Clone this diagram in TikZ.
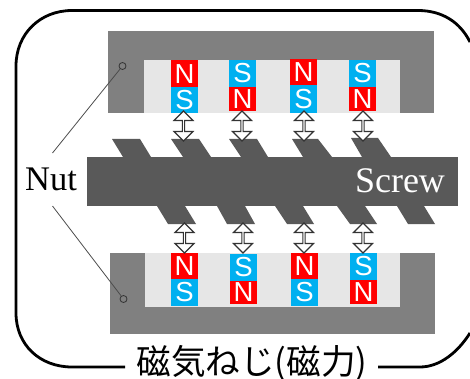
\documentclass[tikz,border=0pt]{standalone}
\usepackage{fontspec}
\setmainfont{Liberation Serif}
\newfontfamily\magfont{Liberation Sans}
\newfontfamily\cjkfont{Noto Sans CJK JP}
\usetikzlibrary{shapes.arrows}
\definecolor{nutgray}{HTML}{808080}
\definecolor{innergray}{HTML}{E6E6E6}
\definecolor{screwgray}{HTML}{595959}
\definecolor{magcyan}{HTML}{00B0F0}
\tikzset{
  nutfill/.style={fill=nutgray,draw=none},
  innerfill/.style={fill=innergray,draw=none},
  screwfill/.style={fill=screwgray,draw=none},
  magbase/.style={anchor=north west,inner sep=0pt,outer sep=0pt,minimum width=27pt,text=white,font=\magfont\fontsize{27.5}{27.5}\selectfont},
  magn/.style={magbase,fill=red},
  mags/.style={magbase,fill=magcyan},
  forcearrow/.style={shape=double arrow,rotate=90,draw=black!80,fill=white,line width=1.2pt,inner sep=0pt,minimum height=30pt,minimum width=19pt,double arrow head extend=4.5pt,double arrow head indent=0pt},
  border/.style={draw=black,line width=2.8pt},
  leader/.style={draw=black!70,line width=0.8pt},
  ring/.style={circle,draw=black!80,line width=0.8pt,inner sep=0pt,minimum size=7pt},
  biglabel/.style={inner sep=0pt,font=\fontsize{34.5}{34.5}\selectfont}
}
\begin{document}
\begin{tikzpicture}[x=1pt,y=-1pt]
\useasboundingbox (0,0) rectangle (470,379);
\clip (0,0) rectangle (470,379);
% outer frame
\coordinate (fa) at (125,367);
\coordinate (fb) at (470,42);
\coordinate (fc) at (378,367);
\coordinate (fd) at (470,333);
\draw[border] (fa) -- (72,367) .. controls (40,367) and (16,345) .. (16,313) -- (16,66) .. controls (16,34) and (40,10.5) .. (72,10.5) -- (418,10.5) .. controls (442,10.5) and (460,22) .. (fb);
\draw[border] (fc) -- (420,367) .. controls (440,367) and (458,352) .. (fd);
% nuts
\fill[nutfill] (108,31.5) rectangle (434,113);
\fill[innerfill] (144,60) rectangle (400,113);
\fill[nutfill] (110,253) rectangle (435,334);
\fill[innerfill] (145,253) rectangle (400,307);
% screw
\fill[screwfill] (87,157) rectangle (458,206);
\fill[screwfill] (112,139) -- (140,139) -- (151,157) -- (123,157) -- cycle;
\fill[screwfill] (171,139) -- (199,139) -- (211,157) -- (183,157) -- cycle;
\fill[screwfill] (229,139) -- (257,139) -- (268,157) -- (241,157) -- cycle;
\fill[screwfill] (292,139) -- (318,139) -- (332,157) -- (303,157) -- cycle;
\fill[screwfill] (351,138) -- (378,138) -- (391,157) -- (362,157) -- cycle;
\fill[screwfill] (157,206) -- (185,206) -- (196,224) -- (168,224) -- cycle;
\fill[screwfill] (217,206) -- (245,206) -- (255,224) -- (227,224) -- cycle;
\fill[screwfill] (275,206) -- (303,206) -- (314,224) -- (287,224) -- cycle;
\fill[screwfill] (337,206) -- (365,206) -- (377,224) -- (350,224) -- cycle;
\fill[screwfill] (397,206) -- (424,206) -- (435,224) -- (408,224) -- cycle;
% top magnets
\node[magn,minimum height=26.5pt] (tn1) at (171,60.5) {N};
\node[mags,minimum height=26pt] (ts1) at (171,87) {S};
\node[mags,minimum height=27pt] (ts2) at (229,60) {S};
\node[magn,minimum height=24pt] (tn2) at (229,87) {N};
\node[magn,minimum height=26pt] (tn3) at (290,59) {N};
\node[mags,minimum height=28pt] (ts3) at (290,85) {S};
\node[mags,minimum height=27pt] (ts4) at (349,60) {S};
\node[magn,minimum height=24pt] (tn4) at (349,87) {N};
% bottom magnets
\node[magn,minimum height=26pt] (bn1) at (171,253) {N};
\node[mags,minimum height=27pt] (bs1) at (171,279) {S};
\node[mags,minimum height=27pt] (bs2) at (230,254) {S};
\node[magn,minimum height=23pt] (bn2) at (230,281) {N};
\node[magn,minimum height=26pt] (bn3) at (291,253) {N};
\node[mags,minimum height=27pt] (bs3) at (291,279) {S};
\node[mags,minimum height=27pt] (bs4) at (350,253) {S};
\node[magn,minimum height=24pt] (bn4) at (350,280) {N};
% force arrows
\node[forcearrow] (ta1) at (183.5,126) {};
\node[forcearrow] (ta2) at (242,126) {};
\node[forcearrow] (ta3) at (304,126) {};
\node[forcearrow] (ta4) at (363,126) {};
\node[forcearrow] (ba1) at (184.5,238) {};
\node[forcearrow] (ba2) at (243,238) {};
\node[forcearrow] (ba3) at (304,238) {};
\node[forcearrow] (ba4) at (363,238) {};
% labels
\node[biglabel] (nut) at (51,179) {Nut};
\node[biglabel,text=white,font=\fontsize{36}{36}\selectfont] (screw) at (400,181) {Screw};
\node[inner sep=0pt,font=\cjkfont\fontsize{34.6}{34.6}\selectfont] (title) at (252,363) {磁気ねじ(磁力)};
% leaders
\node[ring] (r1) at (122.5,66) {};
\node[ring] (r2) at (123.5,299) {};
\coordinate (l1) at (52.5,153);
\coordinate (l2) at (52.5,206);
\draw[leader] (l1) -- (r1);
\draw[leader] (l2) -- (r2);
\end{tikzpicture}
\end{document}
